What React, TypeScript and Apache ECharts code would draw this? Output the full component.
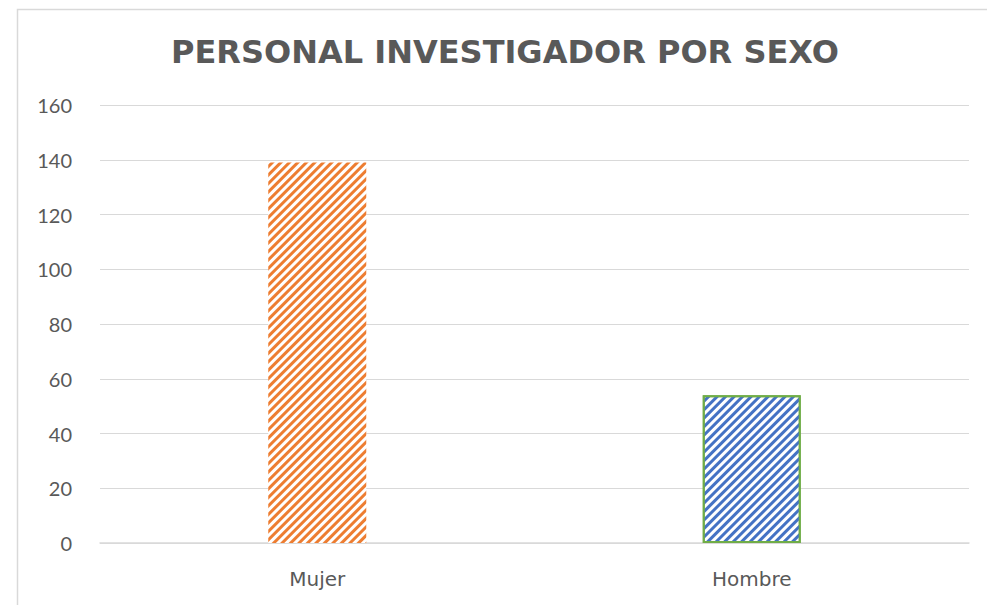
import React, { useEffect, useRef } from "react";
import * as echarts from "echarts";

const categories = ["Mujer", "Hombre"];
const values = [139, 54];
const barColors = ["#ED7D31", "#4472C4"];
const borderColors = ["transparent", "#70AD47"];
const yMax = 160;
const yInterval = 20;
const titleText = "PERSONAL INVESTIGADOR POR SEXO";

export default function App() {
  const ref = useRef<HTMLDivElement>(null);
  useEffect(() => {
    if (!ref.current) return;
    const chart = echarts.init(ref.current, undefined, { renderer: "svg" });
    chart.setOption({
      animation: false,
      backgroundColor: "#fff",
      graphic: [
        {
          type: "rect",
          left: 15,
          top: 7,
          shape: { width: 1200, height: 800 },
          style: { fill: "none", stroke: "#d9d9d9", lineWidth: 1.5 },
          silent: true,
          z: -1,
        },
        {
          type: "text",
          x: 505,
          y: 52,
          style: {
            text: titleText,
            font: 'bold 32px "DejaVu Sans", "Comic Sans MS", sans-serif',
            fill: "#595959",
            align: "center",
            verticalAlign: "middle",
          },
        },
      ],
      grid: { left: 100, right: 18, top: 105, bottom: 62, containLabel: false },
      xAxis: {
        type: "category",
        data: categories,
        axisLine: { show: true, lineStyle: { color: "#d9d9d9", width: 1.5 } },
        axisTick: { show: false },
        axisLabel: {
          color: "#595959",
          fontSize: 20,
          fontFamily: '"DejaVu Sans", "Comic Sans MS", sans-serif',
          margin: 26,
        },
      },
      yAxis: {
        type: "value",
        min: 0,
        max: yMax,
        interval: yInterval,
        axisLine: { show: false },
        axisTick: { show: false },
        splitLine: { lineStyle: { color: "#d9d9d9", width: 1 } },
        axisLabel: {
          color: "#595959",
          fontSize: 20,
          fontFamily: "Lato, sans-serif",
          margin: 28,
        },
      },
      series: [
        {
          type: "bar",
          barWidth: 98,
          data: values.map((v, i) => ({
            value: v,
            itemStyle: {
              color: "#ffffff",
              borderColor: borderColors[i],
              borderWidth: i === 1 ? 2 : 0,
              decal: {
                symbol: "rect",
                color: barColors[i],
                dashArrayX: [1, 0],
                dashArrayY: [2.5, 2.5],
                rotation: -Math.PI / 4,
                symbolSize: 1,
              },
            },
          })),
        },
      ],
    });
    return () => chart.dispose();
  }, []);
  return (
    <div
      ref={ref}
      style={{ position: "fixed", left: 0, top: 0, width: 987, height: 605 }}
    />
  );
}
